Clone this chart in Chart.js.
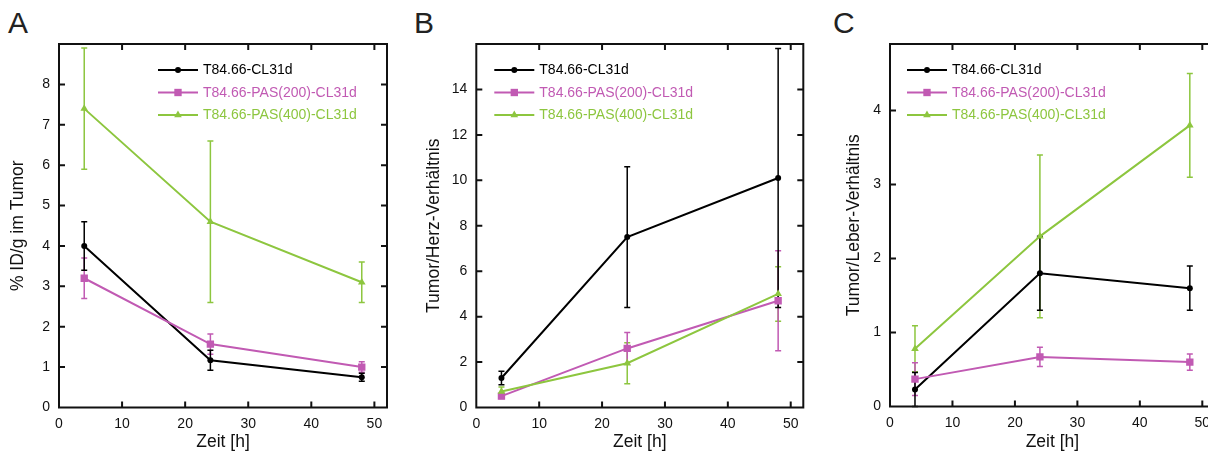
<!DOCTYPE html>
<html>
<head>
<meta charset="utf-8">
<script src="https://cdn.jsdelivr.net/npm/chart.js@4.4.1/dist/chart.umd.min.js"></script>
<style>
  html, body { margin: 0; padding: 0; background: #fff; width: 1208px; height: 453px; overflow: hidden; position: relative; }
  .panel { position: absolute; top: 0; height: 453px; }
  .letter { position: absolute; top: 8px; font: 30px "Liberation Sans", Arial, sans-serif; line-height: 30px; color: #222; }
</style>
</head>
<body>
<div class="letter" style="left:8px">A</div>
<div class="letter" style="left:414px">B</div>
<div class="letter" style="left:833px">C</div>
<div class="panel" style="left:0;width:400px"><canvas id="chartA" width="400" height="453"></canvas></div>
<div class="panel" style="left:400px;width:410px"><canvas id="chartB" width="410" height="453"></canvas></div>
<div class="panel" style="left:810px;width:410px"><canvas id="chartC" width="410" height="453"></canvas></div>
<script>
// Sampling times [h]
const hours = [4, 24, 48];
const seriesNames = ['T84.66-CL31d', 'T84.66-PAS(200)-CL31d', 'T84.66-PAS(400)-CL31d'];

// A: % ID/g im Tumor (mean, SD)
const tumorCL31d = [4.0, 1.17, 0.75];
const tumorCL31dSd = [0.6, 0.25, 0.1];
const tumorPas200 = [3.2, 1.57, 1.0];
const tumorPas200Sd = [0.5, 0.25, 0.13];
const tumorPas400 = [7.4, 4.6, 3.1];
const tumorPas400Sd = [1.5, 2.0, 0.5];

// B: Tumor/Herz-Verhältnis (mean, SD)
const herzCL31d = [1.3, 7.5, 10.1];
const herzCL31dSd = [0.3, 3.1, 5.7];
const herzPas200 = [0.5, 2.6, 4.7];
const herzPas200Sd = [0.1, 0.7, 2.2];
const herzPas400 = [0.7, 1.95, 5.0];
const herzPas400Sd = [0.2, 0.9, 1.2];

// C: Tumor/Leber-Verhältnis (mean, SD)
const leberCL31d = [0.23, 1.8, 1.6];
const leberCL31dSd = [0.23, 0.5, 0.3];
const leberPas200 = [0.37, 0.67, 0.6];
const leberPas200Sd = [0.22, 0.13, 0.11];
const leberPas400 = [0.78, 2.3, 3.8];
const leberPas400Sd = [0.31, 1.1, 0.7];

// Tick values
const xTickValues = [0, 10, 20, 30, 40, 50];
const yTicksA = [0, 1, 2, 3, 4, 5, 6, 7, 8];
const yTicksB = [0, 2, 4, 6, 8, 10, 12, 14];
const yTicksC = [0, 1, 2, 3, 4];

const colors = ['#000000', '#c15ab3', '#8dc63f'];
const markerStyles = ['circle', 'rect', 'triangle'];
const markerRadii = [3, 5.2, 4.4];
const FONT = '"Liberation Sans", Arial, sans-serif';

function drawMarker(ctx, style, r, x, y, color) {
  ctx.save();
  ctx.fillStyle = color;
  ctx.beginPath();
  if (style === 'circle') {
    ctx.arc(x, y, r, 0, Math.PI * 2);
  } else if (style === 'rect') {
    const s = r * Math.SQRT1_2;
    ctx.rect(x - s, y - s, 2 * s, 2 * s);
  } else {
    let a = 0;
    ctx.moveTo(x + Math.sin(a) * r, y - Math.cos(a) * r);
    a += 2 * Math.PI / 3;
    ctx.lineTo(x + Math.sin(a) * r, y - Math.cos(a) * r);
    a += 2 * Math.PI / 3;
    ctx.lineTo(x + Math.sin(a) * r, y - Math.cos(a) * r);
    ctx.closePath();
  }
  ctx.fill();
  ctx.restore();
}

// Vertical SD whiskers with small caps
const errorBars = {
  id: 'errorBars',
  beforeDatasetsDraw(chart) {
    const { ctx, scales: { x, y } } = chart;
    chart.data.datasets.forEach((ds) => {
      ctx.save();
      ctx.strokeStyle = ds.borderColor;
      ctx.lineWidth = 1.5;
      ds.data.forEach((p, i) => {
        const sd = ds.sd[i];
        const px = x.getPixelForValue(p.x);
        const hi = y.getPixelForValue(p.y + sd);
        const lo = y.getPixelForValue(Math.max(p.y - sd, y.min));
        ctx.beginPath();
        ctx.moveTo(px, hi); ctx.lineTo(px, lo);
        ctx.moveTo(px - 3, hi); ctx.lineTo(px + 3, hi);
        ctx.moveTo(px - 3, lo); ctx.lineTo(px + 3, lo);
        ctx.stroke();
      });
      ctx.restore();
    });
  }
};

// Closed frame with inward tick marks on all four sides
const frame = {
  id: 'frame',
  afterDraw(chart) {
    const { ctx, chartArea: a, scales: { x, y } } = chart;
    ctx.save();
    ctx.strokeStyle = '#111';
    ctx.lineWidth = 2;
    ctx.beginPath();
    ctx.rect(a.left, a.top, a.right - a.left, a.bottom - a.top);
    ctx.stroke();
    const len = 6;
    ctx.beginPath();
    x.ticks.forEach(t => {
      const px = x.getPixelForValue(t.value);
      if (px <= a.left + 1 || px >= a.right - 1) return;
      ctx.moveTo(px, a.bottom); ctx.lineTo(px, a.bottom - len);
      ctx.moveTo(px, a.top); ctx.lineTo(px, a.top + len);
    });
    y.ticks.forEach(t => {
      const py = y.getPixelForValue(t.value);
      if (py >= a.bottom - 1 || py <= a.top + 1) return;
      ctx.moveTo(a.left, py); ctx.lineTo(a.left + len, py);
      ctx.moveTo(a.right, py); ctx.lineTo(a.right - len, py);
    });
    ctx.stroke();
    ctx.restore();
  }
};

// Key with line + marker sample and coloured label
const seriesKey = {
  id: 'seriesKey',
  afterDraw(chart, args, opts) {
    const { ctx, chartArea: a } = chart;
    chart.data.datasets.forEach((ds, i) => {
      const x0 = a.left + opts.dx;
      const y0 = a.top + opts.dy + i * opts.rowGap;
      ctx.save();
      ctx.strokeStyle = ds.borderColor;
      ctx.lineWidth = 2;
      ctx.beginPath();
      ctx.moveTo(x0, y0); ctx.lineTo(x0 + 40, y0);
      ctx.stroke();
      drawMarker(ctx, ds.pointStyle, ds.pointRadius, x0 + 20, y0, ds.borderColor);
      ctx.fillStyle = ds.borderColor;
      ctx.font = '14px ' + FONT;
      ctx.textBaseline = 'middle';
      ctx.textAlign = 'left';
      ctx.fillText(ds.label, x0 + 45, y0 + 0.5);
      ctx.restore();
    });
  }
};

function makeDatasets(values, sds) {
  return values.map((vals, k) => ({
    label: seriesNames[k],
    data: hours.map((h, i) => ({ x: h, y: vals[i] })),
    sd: sds[k],
    borderColor: colors[k],
    backgroundColor: colors[k],
    pointBackgroundColor: colors[k],
    pointBorderColor: colors[k],
    pointBorderWidth: 0,
    pointStyle: markerStyles[k],
    pointRadius: markerRadii[k],
    borderWidth: 2,
    tension: 0
  })).reverse();
}

function makeChart(id, p) {
  const datasets = makeDatasets(p.values, p.sds);
  // keep key order: CL31d, PAS(200), PAS(400); draw order puts black on top
  const keyOrder = datasets.slice().reverse();
  return new Chart(document.getElementById(id), {
    type: 'line',
    data: { datasets },
    options: {
      responsive: false,
      animation: false,
      events: [],
      layout: { padding: { left: 0, right: p.padRight, top: 44, bottom: 0 } },
      plugins: {
        legend: { display: false },
        tooltip: { enabled: false },
        seriesKey: { dx: p.keyDx, dy: 26, rowGap: 22.5, order: keyOrder }
      },
      scales: {
        x: {
          type: 'linear', min: 0, max: 52,
          grid: { display: false, drawTicks: false },
          border: { display: false },
          afterBuildTicks: s => { s.ticks = xTickValues.map(v => ({ value: v })); },
          afterFit: s => { s.height = p.xAxisHeight; },
          ticks: { color: '#111', padding: 8, maxRotation: 0, font: { family: FONT, size: 14 } },
          title: { display: true, text: 'Zeit [h]', color: '#111', padding: { top: 0, bottom: 0 }, font: { family: FONT, size: 17.5 } }
        },
        y: {
          type: 'linear', min: 0, max: p.yMax,
          grid: { display: false, drawTicks: false },
          border: { display: false },
          afterBuildTicks: s => { s.ticks = p.yTicks.map(v => ({ value: v })); },
          afterFit: s => { s.width = p.yAxisWidth; },
          ticks: { color: '#111', padding: 9, font: { family: FONT, size: 14 } },
          title: { display: true, text: p.yTitle, color: '#111', padding: { top: p.yTitlePad, bottom: 0 }, font: { family: FONT, size: 17.5 } }
        }
      }
    },
    plugins: [errorBars, frame, {
      id: 'keyWrap',
      afterDraw(chart) {
        const saved = chart.data.datasets;
        chart.data.datasets = keyOrder;
        seriesKey.afterDraw(chart, {}, chart.options.plugins.seriesKey);
        chart.data.datasets = saved;
      }
    }]
  });
}

makeChart('chartA', {
  values: [tumorCL31d, tumorPas200, tumorPas400],
  sds: [tumorCL31dSd, tumorPas200Sd, tumorPas400Sd],
  yMax: 9, yTicks: yTicksA, yTitle: '% ID/g im Tumor',
  yAxisWidth: 59, padRight: 13, xAxisHeight: 45.5, yTitlePad: 7.5, keyDx: 99
});
makeChart('chartB', {
  values: [herzCL31d, herzPas200, herzPas400],
  sds: [herzCL31dSd, herzPas200Sd, herzPas400Sd],
  yMax: 16, yTicks: yTicksB, yTitle: 'Tumor/Herz-Verhältnis',
  yAxisWidth: 76.3, padRight: 6.7, xAxisHeight: 45.5, yTitlePad: 23.2, keyDx: 18
});
makeChart('chartC', {
  values: [leberCL31d, leberPas200, leberPas400],
  sds: [leberCL31dSd, leberPas200Sd, leberPas400Sd],
  yMax: 4.9, yTicks: yTicksC, yTitle: 'Tumor/Leber-Verhältnis',
  yAxisWidth: 80, padRight: 4, xAxisHeight: 46.5, yTitlePad: 33.2, keyDx: 17
});
</script>
</body>
</html>
